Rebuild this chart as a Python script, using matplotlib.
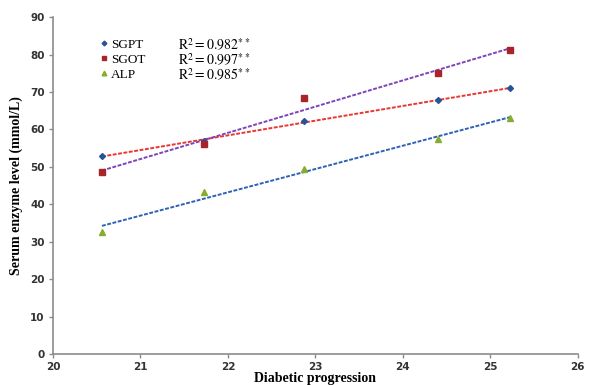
import numpy as np
import matplotlib
matplotlib.use('Agg')
import matplotlib.pyplot as plt

# values
progression = [20.56, 21.73, 22.87, 24.40, 25.23]
sgpt = [52.8, 57.0, 62.3, 67.8, 71.0]
sgot = [48.5, 56.0, 68.3, 75.0, 81.2]
alp = [32.5, 43.4, 49.5, 57.4, 63.0]
r2_labels = ['0.982', '0.997', '0.985']
x_ticks = [20, 21, 22, 23, 24, 25, 26]
y_ticks = [0, 10, 20, 30, 40, 50, 60, 70, 80, 90]

plt.rcParams['mathtext.fontset'] = 'stix'

fig = plt.figure(figsize=(5.92, 3.85), dpi=100)
ax = fig.add_axes([0.0895, 0.0805, 0.8865, 0.875])

series = [
    ('SGPT', sgpt, 'D', '#24559b', '#e8372f', 3.0),
    ('SGOT', sgot, 's', '#a8232a', '#7d45b8', 4.2),
    ('ALP', alp, '^', '#86ad2e', '#2d62b4', 4.2),
]

x = np.array(progression)
handles = []
for name, vals, marker, mcol, lcol, ms in series:
    # linear trendline, like the spreadsheet's
    slope, icpt = np.polyfit(x, vals, 1)
    ax.plot(x, slope * x + icpt, color=lcol, lw=1.4, linestyle=(0, (2, 0.8)), zorder=2)
    h, = ax.plot(x, vals, marker=marker, linestyle='', color=mcol, ms=ms, label=name, zorder=3)
    handles.append(h)

leg = ax.legend(handles=handles, loc='upper left', bbox_to_anchor=(0.083, 0.952), frameon=False,
                handlelength=0.4, handletextpad=0.3, labelspacing=0.2, borderaxespad=0,
                markerscale=0.8, prop={'family': 'Liberation Serif', 'size': 9.5})

for i, r2 in enumerate(r2_labels):
    ax.text(0.238, 0.916 - i * 0.0445, r'$\mathrm{R}^2 = ' + r2 + r'^{**}$', transform=ax.transAxes,
            fontsize=10, va='center')

ax.set_xlim(20, 26)
ax.set_ylim(0, 90)
ax.set_xticks(x_ticks)
ax.set_yticks(y_ticks)

for side in ['top', 'right']:
    ax.spines[side].set_visible(False)
for side in ['left', 'bottom']:
    ax.spines[side].set_color('#8c8c8c')
    ax.spines[side].set_linewidth(1.2)
ax.tick_params(axis='both', colors='#8c8c8c', length=3, width=1, direction='out',
               labelsize=7.5, labelcolor='#333333', pad=3)
for lbl in ax.get_xticklabels() + ax.get_yticklabels():
    lbl.set_fontweight('bold')

ax.set_ylabel('Serum enzyme level (mmol/L)', family='Liberation Serif', fontweight='bold',
              fontsize=10, labelpad=5)
ax.set_xlabel('Diabetic progression', family='Liberation Serif', fontweight='bold',
              fontsize=10, labelpad=-0.5)

fig.savefig('out.png', dpi=100)
